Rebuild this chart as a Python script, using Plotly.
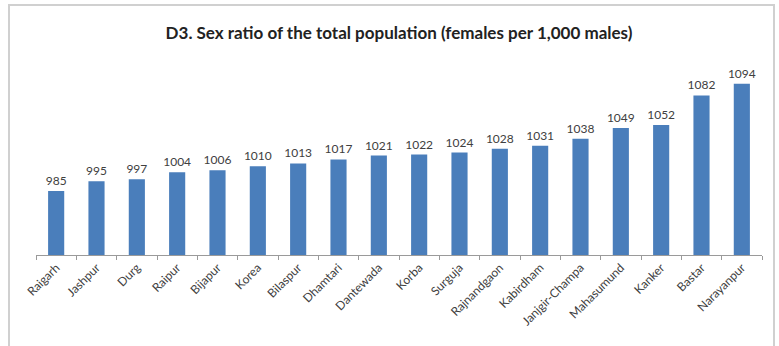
import plotly.graph_objects as go

districts = ["Raigarh", "Jashpur", "Durg", "Raipur", "Bijapur", "Korea", "Bilaspur",
             "Dhamtari", "Dantewada", "Korba", "Surguja", "Rajnandgaon", "Kabirdham",
             "Janjgir-Champa", "Mahasumund", "Kanker", "Bastar", "Narayanpur"]
sex_ratio = [985, 995, 997, 1004, 1006, 1010, 1013, 1017, 1021, 1022, 1024, 1028,
             1031, 1038, 1049, 1052, 1082, 1094]

W, H = 779, 346
ml, mr, mt, mb = 36, 17, 61, 91
pw = W - ml - mr
ph = H - mt - mb

fig = go.Figure(go.Bar(
    x=districts, y=sex_ratio,
    marker=dict(color="#4A7EBB", line=dict(width=0)),
    text=[str(v) for v in sex_ratio], textposition="outside",
    constraintext="none",
    textfont=dict(family="Lato, sans-serif", size=12, color="#404040"),
    cliponaxis=False,
))

def px_x(p):
    return (p - ml) / pw

def px_y(p):
    return (H - mb - p) / ph

fig.update_layout(
    width=W, height=H,
    margin=dict(l=ml, r=mr, t=mt, b=mb),
    paper_bgcolor="white", plot_bgcolor="white",
    bargap=0.6,
    showlegend=False,
    title=dict(text="<b>D3. Sex ratio of the total population (females per 1,000 males)</b>",
               xref="paper", x=0.5, xanchor="center", y=1 - 33 / H, yanchor="middle",
               font=dict(family="Lato, sans-serif", size=17, color="#222222")),
    xaxis=dict(showline=True, linecolor="#9a9a9a", linewidth=1,
               ticks="outside", tickson="boundaries", ticklen=4, tickcolor="#9a9a9a",
               tickangle=-45, tickfont=dict(family="Lato, sans-serif", size=12, color="#404040"),
               showgrid=False),
    yaxis=dict(range=[920, 1117], visible=False, showgrid=False),
    shapes=[dict(type="rect", xref="paper", yref="paper",
                 x0=px_x(9), x1=px_x(774), y0=px_y(352), y1=px_y(5),
                 line=dict(color="#d0d0d0", width=2), fillcolor="rgba(0,0,0,0)",
                 layer="below")],
)

fig.write_html("out.html")
